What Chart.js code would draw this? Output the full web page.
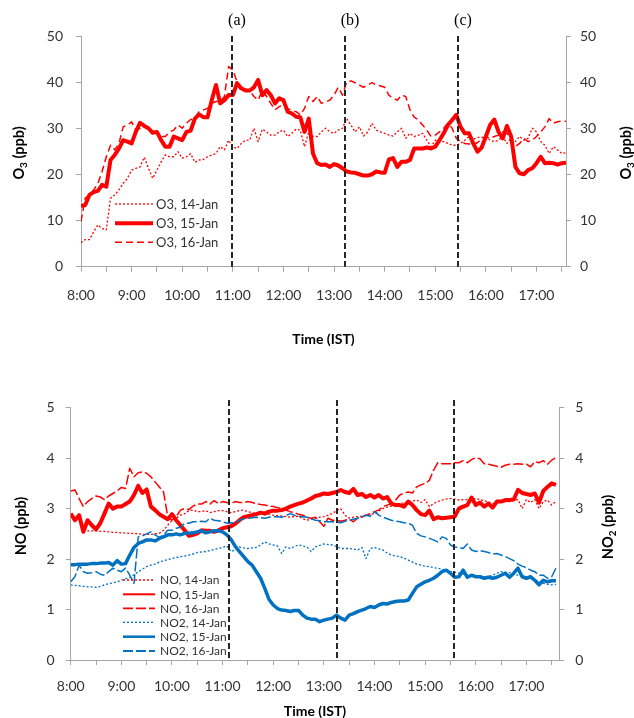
<!DOCTYPE html>
<html><head><meta charset="utf-8">
<script src="https://cdn.jsdelivr.net/npm/chart.js@4.4.1/dist/chart.umd.min.js"></script>
<style>
html,body{margin:0;padding:0;background:#fff;width:634px;height:718px;overflow:hidden}
#c1{position:absolute;left:0;top:0}
#c2{position:absolute;left:0;top:360px}
</style></head><body>
<canvas id="c1" width="634" height="360"></canvas>
<canvas id="c2" width="634" height="358"></canvas>
<script>
// ---------- categories (5-minute samples, IST) ----------
const times = [
 "8:00","8:05","8:10","8:15","8:20","8:25","8:30","8:35","8:40","8:45","8:50","8:55",
 "9:00","9:05","9:10","9:15","9:20","9:25","9:30","9:35","9:40","9:45","9:50","9:55",
 "10:00","10:05","10:10","10:15","10:20","10:25","10:30","10:35","10:40","10:45","10:50","10:55",
 "11:00","11:05","11:10","11:15","11:20","11:25","11:30","11:35","11:40","11:45","11:50","11:55",
 "12:00","12:05","12:10","12:15","12:20","12:25","12:30","12:35","12:40","12:45","12:50","12:55",
 "13:00","13:05","13:10","13:15","13:20","13:25","13:30","13:35","13:40","13:45","13:50","13:55",
 "14:00","14:05","14:10","14:15","14:20","14:25","14:30","14:35","14:40","14:45","14:50","14:55",
 "15:00","15:05","15:10","15:15","15:20","15:25","15:30","15:35","15:40","15:45","15:50","15:55",
 "16:00","16:05","16:10","16:15","16:20","16:25","16:30","16:35","16:40","16:45","16:50","16:55",
 "17:00","17:05","17:10","17:15","17:20","17:25","17:30","17:35"];

// x-axis tick marks (every 30 min) and their labels
const tickTimes  = ["8:00","8:30","9:00","9:30","10:00","10:30","11:00","11:30","12:00","12:30","13:00","13:30","14:00","14:30","15:00","15:30","16:00","16:30","17:00","17:30"];
const tickLabels = ["8:00","","9:00","","10:00","","11:00","","12:00","","13:00","","14:00","","15:00","","16:00","","17:00",""];

// event markers
const markerLabels = ["(a)","(b)","(c)"];
const markerTimesTop = ["10:59","13:13","15:27"];
const markerTimesBottom = ["11:08","13:15","15:34"];

// ---------- O3 (ppb) ----------
const o3Jan14 = [
 5.2,5.9,5.9,7.6,9.1,8.3,8.0,14.9,15.6,16.7,18.1,19.2,
 21.0,21.4,21.7,23.8,21.4,19.2,21.0,22.8,24.3,23.9,23.9,25.0,
 23.6,23.9,24.6,22.7,23.2,23.3,23.9,24.3,24.6,26.1,25.4,27.5,
 26.1,25.7,26.8,27.5,27.5,30.1,27.2,29.9,29.3,28.6,28.6,29.3,
 29.7,28.3,29.0,29.9,29.7,26.1,29.3,28.3,28.3,29.3,30.1,29.3,
 29.0,29.7,30.1,32.2,30.8,29.3,30.4,28.4,29.3,31.2,29.7,29.3,
 29.0,28.6,28.4,29.3,30.1,27.9,29.0,28.3,28.6,29.0,27.5,26.1,
 27.5,27.2,27.2,26.8,26.4,26.4,26.8,27.5,28.3,27.7,28.1,28.1,
 28.3,27.5,27.2,27.5,28.3,26.8,27.9,27.2,28.3,27.5,27.9,30.1,
 29.3,27.2,26.4,24.6,26.1,25.4,24.6,24.8];
const o3Jan15 = [
 13.2,13.4,15.6,16.2,16.5,17.8,17.4,23.2,24.3,25.7,27.5,27.2,
 26.8,29.3,31.3,30.6,30.1,29.1,29.3,27.5,26.1,26.1,28.3,27.9,
 27.5,29.3,29.6,32.2,33.1,32.5,32.5,36.2,39.5,35.5,36.2,37.3,
 37.3,39.9,38.8,38.3,38.3,39.0,40.6,37.3,38.4,37.3,35.5,36.6,
 36.2,33.7,33.3,32.6,32.5,29.3,32.2,24.6,22.5,22.1,22.2,21.7,
 22.3,22.0,21.4,20.7,20.5,20.4,20.1,19.8,19.8,20.1,20.7,20.5,
 20.4,23.3,23.6,21.7,22.8,22.8,23.2,25.7,25.7,25.7,25.9,25.7,
 26.1,27.5,29.0,30.8,31.9,33.0,30.4,29.0,29.0,26.8,25.0,25.9,
 28.3,30.8,32.0,29.3,27.9,30.6,28.3,21.7,20.3,20.1,21.0,21.4,
 22.5,23.9,22.5,22.6,22.5,22.2,22.5,22.6];
const o3Jan16 = [
 9.8,14.9,15.6,16.7,18.1,20.7,23.9,26.4,25.4,26.8,30.4,30.8,
 31.5,29.7,30.1,30.8,30.3,29.6,29.0,28.3,28.3,29.3,29.7,30.8,
 30.1,31.2,32.0,32.2,33.7,34.1,34.4,35.5,35.9,35.9,37.0,43.5,
 42.8,40.2,38.0,38.6,38.3,37.0,36.2,38.4,37.0,35.5,34.1,34.8,
 35.1,34.4,33.9,33.7,33.0,34.4,37.0,35.9,37.0,35.5,35.9,36.2,
 37.3,39.0,37.3,40.2,40.4,40.0,39.5,39.0,39.5,40.0,39.5,39.3,
 39.0,37.3,36.6,36.2,37.3,37.0,34.1,32.5,31.9,30.8,29.7,28.3,
 28.6,29.3,30.1,31.2,30.1,27.9,27.2,26.8,26.7,26.4,27.0,27.7,
 28.3,27.9,28.3,28.6,29.3,29.0,27.5,26.1,26.8,27.9,27.2,27.5,
 28.3,29.3,30.4,32.2,31.2,31.5,31.7,31.6];

// ---------- NO (ppb) ----------
const noJan14 = [
 null,null,null,2.57,2.56,2.56,2.56,2.55,2.55,2.54,2.53,2.53,
 2.52,2.52,2.51,2.51,2.50,2.49,2.49,2.49,2.50,2.51,2.57,2.67,
 2.77,2.81,2.87,2.90,2.96,2.97,2.94,2.94,2.96,2.92,2.94,2.96,
 2.96,2.94,2.92,2.94,2.96,2.97,2.94,2.92,2.90,2.91,2.92,2.89,
 2.87,2.86,2.85,2.84,2.83,2.84,2.85,2.80,2.77,2.79,2.81,2.83,
 2.84,2.87,2.90,2.96,3.00,2.87,2.81,2.83,2.84,2.85,2.87,2.89,
 2.90,2.95,3.00,3.03,3.05,3.07,3.10,3.11,3.12,3.15,3.17,3.12,
 3.18,3.04,3.10,3.14,3.17,3.19,3.20,3.19,3.17,3.18,3.18,3.19,
 3.20,3.18,3.16,3.13,3.10,3.12,3.14,3.14,3.14,3.17,3.18,3.00,
 3.18,3.12,3.18,3.00,3.14,3.17,3.07,3.14];
const noJan15 = [
 2.90,2.77,2.87,2.54,2.77,2.67,2.59,2.71,2.90,3.10,3.00,3.04,
 3.04,3.09,3.14,3.27,3.45,3.31,3.38,3.04,2.97,2.89,2.84,2.79,
 2.89,2.77,2.67,2.57,2.46,2.48,2.51,2.57,2.56,2.56,2.54,2.57,
 2.61,2.63,2.65,2.70,2.77,2.83,2.85,2.87,2.89,2.92,2.90,2.94,
 2.96,2.96,2.97,3.00,3.04,3.07,3.10,3.12,3.16,3.20,3.25,3.27,
 3.30,3.29,3.31,3.33,3.37,3.33,3.31,3.39,3.27,3.29,3.23,3.27,
 3.22,3.27,3.20,3.23,3.10,3.07,3.07,3.04,3.14,3.07,2.97,2.89,
 2.87,2.96,2.79,2.83,2.81,2.82,2.83,2.84,3.00,3.04,3.07,3.22,
 3.07,3.12,3.04,3.10,3.02,3.14,3.14,3.17,3.17,3.18,3.37,3.31,
 3.29,3.27,3.30,3.12,3.35,3.43,3.50,3.47];
const noJan16 = [
 3.35,3.37,3.20,3.04,3.14,3.20,3.25,3.23,3.18,3.25,3.30,3.35,
 3.42,3.40,3.80,3.63,3.71,3.73,3.70,3.63,3.53,3.43,3.33,2.84,
 2.77,2.84,2.97,3.00,2.98,3.05,3.09,3.09,3.14,3.09,3.16,3.10,
 3.14,3.12,3.10,3.14,3.12,3.12,3.14,3.12,3.10,3.08,3.07,3.05,
 3.04,3.02,3.00,2.97,2.94,2.92,2.89,2.87,2.83,2.81,2.83,2.74,
 2.65,2.81,2.77,2.77,2.75,2.77,2.79,2.74,2.81,2.83,2.87,2.90,
 2.94,2.97,3.04,3.07,3.10,3.17,3.27,3.31,3.33,3.31,3.43,3.47,
 3.50,3.56,3.76,3.91,3.89,3.89,3.89,3.91,3.91,3.95,3.91,3.97,
 4.01,3.99,3.89,3.88,3.86,3.84,3.82,3.86,3.88,3.88,3.89,3.88,
 3.88,3.83,3.93,3.91,3.95,3.88,3.96,4.01];

// ---------- NO2 (ppb) ----------
const no2Jan14 = [
 1.49,1.48,1.47,1.46,1.45,1.45,1.44,1.46,1.49,1.51,1.53,1.55,
 1.58,1.61,1.64,1.69,1.75,1.80,1.85,1.88,1.90,1.94,1.97,1.99,
 2.01,2.03,2.05,2.06,2.08,2.10,2.13,2.14,2.15,2.17,2.19,2.21,
 2.23,2.26,2.15,2.18,2.24,2.22,2.21,2.22,2.23,2.28,2.34,2.30,
 2.28,2.26,2.11,2.24,2.21,2.25,2.28,2.26,2.24,2.15,2.24,2.27,
 2.30,2.29,2.28,2.25,2.21,2.21,2.21,2.20,2.18,2.23,2.01,2.21,
 2.23,2.20,2.18,2.12,2.08,2.06,2.05,2.02,1.98,1.94,1.90,1.88,
 1.86,1.85,1.83,1.82,1.80,1.78,1.75,1.74,1.72,1.70,1.68,1.66,
 1.65,1.65,1.65,1.66,1.68,1.72,1.75,1.74,1.73,1.70,1.68,1.66,
 1.65,1.61,1.58,1.55,1.52,1.50,1.49,1.50];
const no2Jan15 = [
 1.89,1.89,1.90,1.90,1.90,1.91,1.91,1.92,1.92,1.93,1.88,1.97,
 1.90,1.91,2.08,2.23,2.31,2.34,2.38,2.38,2.36,2.41,2.44,2.48,
 2.48,2.50,2.48,2.51,2.51,2.52,2.54,2.56,2.52,2.54,2.56,2.56,
 2.54,2.48,2.39,2.25,2.15,2.05,1.95,1.88,1.75,1.62,1.42,1.20,
 1.09,1.02,0.99,0.98,0.96,0.98,0.98,0.89,0.83,0.81,0.81,0.76,
 0.79,0.81,0.83,0.89,0.83,0.79,0.89,0.92,0.96,0.99,1.02,1.06,
 1.04,1.09,1.12,1.11,1.14,1.16,1.17,1.17,1.19,1.32,1.45,1.50,
 1.55,1.58,1.62,1.68,1.75,1.78,1.72,1.64,1.65,1.78,1.64,1.68,
 1.65,1.65,1.62,1.64,1.62,1.64,1.68,1.72,1.64,1.72,1.82,1.65,
 1.62,1.65,1.58,1.49,1.58,1.55,1.57,1.57];
const no2Jan16 = [
 1.55,1.65,1.88,1.75,1.72,1.73,1.75,1.70,1.68,1.75,1.82,1.78,
 1.75,1.82,1.68,1.52,2.44,2.46,2.50,2.54,2.48,2.43,2.48,2.57,
 2.57,2.61,2.63,2.71,2.71,2.74,2.74,2.75,2.74,2.81,2.77,2.76,
 2.74,2.71,2.72,2.71,2.77,2.80,2.81,2.82,2.83,2.82,2.81,2.83,
 2.84,2.84,2.83,2.86,2.90,2.87,2.85,2.84,2.83,2.80,2.77,2.76,
 2.74,2.74,2.74,2.73,2.72,2.75,2.77,2.79,2.81,2.84,2.87,2.85,
 2.94,2.87,2.83,2.80,2.77,2.75,2.74,2.72,2.71,2.67,2.51,2.46,
 2.44,2.41,2.38,2.34,2.44,2.41,2.28,2.24,2.23,2.21,2.30,2.18,
 2.15,2.17,2.15,2.13,2.10,2.11,2.08,2.05,2.01,1.97,1.90,1.86,
 1.83,1.78,1.75,1.68,1.68,1.62,1.65,1.82];

// ---------- helpers ----------
const RED = '#FF0000', BLUE = '#0070C0', AXIS = '#A6A6A6', TXT = '#333333';
const FONT = 'Lato';
function toMin(s){ const p = s.split(':'); return (+p[0]-8)*60 + (+p[1]); }
function series(vals){ return times.map((t,i)=>({x: toMin(t), y: vals[i]})); }

function ds(label, vals, color, width, dash, order, legendWidth){
  return { label, data: series(vals), borderColor: color, backgroundColor: color,
    borderWidth: width, borderDash: dash, pointRadius: 0, tension: 0, fill: false,
    borderJoinStyle: 'round', spanGaps: false, order, legendWidth };
}

function drawTitle(ctx, x, y, parts, rotate, size){
  ctx.save();
  ctx.translate(x, y);
  if (rotate) ctx.rotate(-Math.PI/2);
  const fMain = `bold ${size}px ${FONT}`, fSub = `bold ${Math.round(size*0.68)}px ${FONT}`;
  let w = 0;
  parts.forEach(p => { ctx.font = p.sub ? fSub : fMain; w += ctx.measureText(p.t).width; });
  let cx = -w/2;
  ctx.fillStyle = '#000'; ctx.textBaseline = 'middle'; ctx.textAlign = 'left';
  parts.forEach(p => {
    ctx.font = p.sub ? fSub : fMain;
    ctx.fillText(p.t, cx, p.sub ? size*0.32 : 0);
    cx += ctx.measureText(p.t).width;
  });
  ctx.restore();
}

const overlay = {
  id: 'overlay',
  afterDatasetsDraw(chart, args, o){
    const ctx = chart.ctx, area = chart.chartArea, xs = chart.scales.x;
    ctx.save();
    // vertical event markers
    o.markers.forEach((t, i) => {
      const x = Math.round(xs.getPixelForValue(toMin(t)));
      ctx.strokeStyle = '#262626'; ctx.lineWidth = 2; ctx.setLineDash([6,3]);
      ctx.beginPath(); ctx.moveTo(x, o.markerTop); ctx.lineTo(x, area.bottom); ctx.stroke();
      if (o.markerLabels){
        ctx.setLineDash([]);
        ctx.fillStyle = '#000'; ctx.font = `16px "Liberation Serif"`;
        ctx.textAlign = 'center'; ctx.textBaseline = 'middle';
        ctx.fillText(o.markerLabels[i], x + 5, o.markerLabelY);
      }
    });
    ctx.setLineDash([]);
    // legend
    const L = o.legend;
    chart.data.datasets.forEach((d, i) => {
      const y = L.ys[i];
      ctx.strokeStyle = d.borderColor; ctx.lineWidth = d.legendWidth;
      ctx.setLineDash(d.borderDash || []);
      ctx.beginPath(); ctx.moveTo(L.x0, y); ctx.lineTo(L.x1, y); ctx.stroke();
      ctx.setLineDash([]);
      ctx.fillStyle = TXT; ctx.font = `${L.size}px ${FONT}`;
      ctx.textAlign = 'left'; ctx.textBaseline = 'middle';
      ctx.fillText(d.label, L.tx, y + 0.5);
    });
    // axis titles
    o.titles.forEach(t => drawTitle(ctx, t.x, t.y, t.parts, t.rotate, t.size));
    ctx.restore();
  }
};

function scalesFor(cfg){
  const tickFont = { family: FONT, size: 14 };
  return {
    x: { type: 'linear', min: 0, max: cfg.xMax,
      afterFit: s => { s.height = cfg.H - cfg.bottom; },
      afterBuildTicks: s => { s.ticks = tickTimes.map(t => ({ value: toMin(t) })); },
      ticks: { autoSkip: false, maxRotation: 0, padding: cfg.xPad, color: TXT, font: tickFont,
               callback: (v, i) => tickLabels[i] },
      grid: { drawOnChartArea: false, drawTicks: true, tickLength: 5, color: AXIS },
      border: { display: true, color: AXIS, width: 1 } },
    y: { position: 'left', min: 0, max: cfg.yMax,
      afterFit: s => { s.width = cfg.left; },
      ticks: { stepSize: cfg.step, padding: cfg.yPadL, color: TXT, font: tickFont },
      grid: { drawOnChartArea: false, drawTicks: true, tickLength: 5, color: AXIS },
      border: { display: true, color: AXIS, width: 1 } },
    y2: { position: 'right', min: 0, max: cfg.yMax,
      afterFit: s => { s.width = 634 - cfg.right; },
      ticks: { stepSize: cfg.step, padding: cfg.yPadR, color: TXT, font: tickFont },
      grid: { drawOnChartArea: false, drawTicks: true, tickLength: 5, color: AXIS },
      border: { display: true, color: AXIS, width: 1 } }
  };
}

// ---------- top chart: O3 ----------
new Chart(document.getElementById('c1'), {
  type: 'line',
  data: { datasets: [
    ds('O3, 14-Jan', o3Jan14, RED, 1.3, [2,2], 3, 1.3),
    ds('O3, 15-Jan', o3Jan15, RED, 4, [], 2, 4),
    ds('O3, 16-Jan', o3Jan16, RED, 1.5, [7,4], 1, 1.5)
  ]},
  options: {
    responsive: false, animation: false,
    layout: { padding: { top: 36.7, left: 0, right: 0, bottom: 0 } },
    scales: scalesFor({ H: 360, bottom: 266.7, left: 81, right: 566, xMax: 575, yMax: 50, step: 10,
                        xPad: 15, yPadL: 13, yPadR: 9 }),
    plugins: {
      legend: { display: false }, tooltip: { enabled: false },
      overlay: {
        markers: markerTimesTop, markerLabels: markerLabels, markerTop: 36, markerLabelY: 21,
        legend: { ys: [204, 223.3, 242.3], x0: 115, x1: 153, tx: 156, size: 13 },
        titles: [
          { x: 19, y: 153, rotate: true, size: 14.5, parts: [{t:'O'},{t:'3',sub:true},{t:' (ppb)'}] },
          { x: 626, y: 153, rotate: true, size: 14.5, parts: [{t:'O'},{t:'3',sub:true},{t:' (ppb)'}] },
          { x: 323.5, y: 339, rotate: false, size: 14, parts: [{t:'Time (IST)'}] }
        ]
      }
    }
  },
  plugins: [overlay]
});

// ---------- bottom chart: NO and NO2 ----------
new Chart(document.getElementById('c2'), {
  type: 'line',
  data: { datasets: [
    ds('NO, 14-Jan', noJan14, RED, 1.3, [2,2], 6, 1.3),
    ds('NO, 15-Jan', noJan15, RED, 4, [], 5, 2),
    ds('NO, 16-Jan', noJan16, RED, 1.5, [10,3], 4, 1.8),
    ds('NO2, 14-Jan', no2Jan14, BLUE, 1.3, [2,2], 3, 1.3),
    ds('NO2, 15-Jan', no2Jan15, BLUE, 3.5, [], 2, 2.5),
    ds('NO2, 16-Jan', no2Jan16, BLUE, 1.5, [10,3], 1, 1.8)
  ]},
  options: {
    responsive: false, animation: false,
    layout: { padding: { top: 47.7, left: 0, right: 0, bottom: 0 } },
    scales: scalesFor({ H: 358, bottom: 300, left: 70.7, right: 559.3, xMax: 579, yMax: 5, step: 1,
                        xPad: 13, yPadL: 11, yPadR: 11 }),
    plugins: {
      legend: { display: false }, tooltip: { enabled: false },
      overlay: {
        markers: markerTimesBottom, markerLabels: null, markerTop: 40,
        legend: { ys: [220, 234.3, 248.3, 262.3, 276.7, 291], x0: 123, x1: 155, tx: 160, size: 12 },
        titles: [
          { x: 21, y: 166, rotate: true, size: 14.5, parts: [{t:'NO (ppb)'}] },
          { x: 608.5, y: 167, rotate: true, size: 14.5, parts: [{t:'NO'},{t:'2',sub:true},{t:' (ppb)'}] },
          { x: 315, y: 351.7, rotate: false, size: 14, parts: [{t:'Time (IST)'}] }
        ]
      }
    }
  },
  plugins: [overlay]
});
</script>
</body></html>
